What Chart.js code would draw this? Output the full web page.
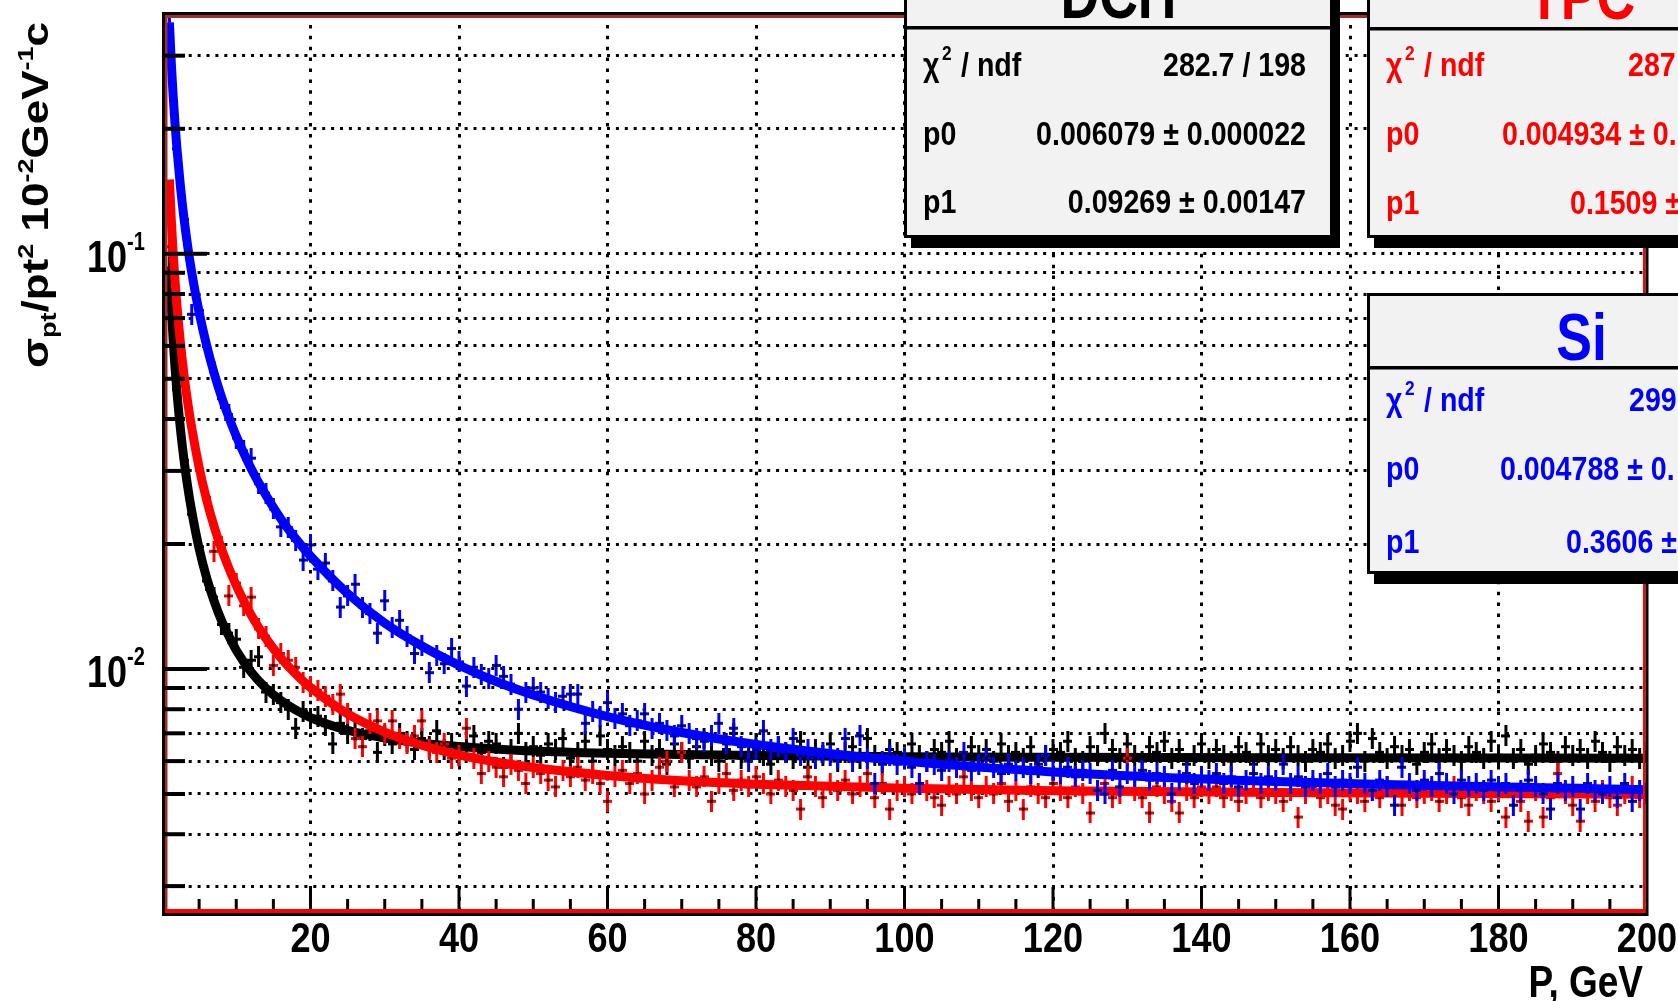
<!DOCTYPE html>
<html lang="en">
<head>
<meta charset="UTF-8" />
<title>Momentum resolution: DCH, TPC, Si</title>
<script src="https://cdn.jsdelivr.net/npm/chart.js"></script>
<style>
  html, body { margin: 0; padding: 0; background: #fff; overflow: hidden; }
  canvas { display: block; }
</style>
</head>
<body>
<canvas id="resChart" width="1678" height="1001"></canvas>
<script>
// one bin per GeV
const momentum = Array.from({ length: 200 }, (_, i) => i + 1);

const dchPoints = [
  0.0925, 0.0471, 0.0318, 0.0236, 0.0197, 0.0163, 0.0149, 0.0128, 0.0122, 0.0118,
  0.0101, 0.0105, 0.0107, 0.0088, 0.0087, 0.0083, 0.0080, 0.0072, 0.0079, 0.0076,
  0.0077, 0.0073, 0.0066, 0.0074, 0.0070, 0.0071, 0.0068, 0.0071, 0.0063, 0.0069,
  0.0066, 0.0070, 0.0067, 0.0064, 0.0068, 0.0065, 0.0071, 0.0064, 0.0066, 0.0062,
  0.0065, 0.0069, 0.0063, 0.0067, 0.0066, 0.0058, 0.0064, 0.0070, 0.0063, 0.0065,
  0.0062, 0.0066, 0.0064, 0.0068, 0.0061, 0.0063, 0.0067, 0.0060, 0.0069, 0.0064,
  0.0062, 0.0065, 0.0063, 0.0060, 0.0067, 0.0062, 0.0064, 0.0059, 0.0066, 0.0063,
  0.0061, 0.0065, 0.0068, 0.0062, 0.0060, 0.0064, 0.0070, 0.0061, 0.0063, 0.0066,
  0.0062, 0.0059, 0.0065, 0.0063, 0.0061, 0.0067, 0.0058, 0.0064, 0.0062, 0.0066,
  0.0060, 0.0063, 0.0065, 0.0061, 0.0068, 0.0062, 0.0059, 0.0064, 0.0063, 0.0061,
  0.0066, 0.0062, 0.0060, 0.0064, 0.0063, 0.0067, 0.0061, 0.0059, 0.0065, 0.0062,
  0.0064, 0.0060, 0.0066, 0.0062, 0.0063, 0.0061, 0.0065, 0.0058, 0.0062, 0.0064,
  0.0063, 0.0067, 0.0061, 0.0060, 0.0065, 0.0062, 0.0070, 0.0064, 0.0061, 0.0066,
  0.0062, 0.0060, 0.0065, 0.0063, 0.0067, 0.0061, 0.0064, 0.0059, 0.0062, 0.0066,
  0.0061, 0.0064, 0.0062, 0.0060, 0.0065, 0.0063, 0.0059, 0.0066, 0.0062, 0.0064,
  0.0061, 0.0065, 0.0062, 0.0060, 0.0064, 0.0063, 0.0066, 0.0061, 0.0062, 0.0067,
  0.0070, 0.0060, 0.0068, 0.0063, 0.0061, 0.0065, 0.0062, 0.0064, 0.0059, 0.0063,
  0.0066, 0.0061, 0.0064, 0.0062, 0.0060, 0.0065, 0.0063, 0.0061, 0.0067, 0.0062,
  0.0069, 0.0061, 0.0064, 0.0059, 0.0062, 0.0066, 0.0063, 0.0060, 0.0065, 0.0062,
  0.0064, 0.0061, 0.0067, 0.0063, 0.0060, 0.0065, 0.0062, 0.0064, 0.0061, 0.0063
];

const tpcPoints = [
  0.1040, 0.0762, 0.0498, 0.0384, 0.0301, 0.0259, 0.0192, 0.0197, 0.0150, 0.0161,
  0.0142, 0.0149, 0.0125, 0.0120, 0.0102, 0.0109, 0.0105, 0.0101, 0.0093, 0.0091,
  0.0089, 0.0086, 0.0082, 0.0087, 0.0078, 0.0068, 0.0065, 0.0074, 0.0075, 0.0070,
  0.0075, 0.0068, 0.0066, 0.0069, 0.0075, 0.0064, 0.0063, 0.0066, 0.0061, 0.0062,
  0.0072, 0.0061, 0.0056, 0.0060, 0.0058, 0.0055, 0.0059, 0.0057, 0.0053, 0.0058,
  0.0056, 0.0054, 0.0052, 0.0057, 0.0055, 0.0058, 0.0054, 0.0056, 0.0053, 0.0048,
  0.0055, 0.0057, 0.0053, 0.0056, 0.0050, 0.0054, 0.0058, 0.0060, 0.0052, 0.0063,
  0.0054, 0.0052, 0.0055, 0.0048, 0.0053, 0.0056, 0.0051, 0.0054, 0.0052, 0.0055,
  0.0053, 0.0050, 0.0054, 0.0052, 0.0051, 0.0046, 0.0055, 0.0052, 0.0049, 0.0053,
  0.0051, 0.0054, 0.0050, 0.0052, 0.0056, 0.0049, 0.0053, 0.0046, 0.0051, 0.0052,
  0.0050, 0.0053, 0.0051, 0.0049, 0.0047, 0.0052, 0.0050, 0.0055, 0.0051, 0.0049,
  0.0052, 0.0050, 0.0053, 0.0048, 0.0051, 0.0046, 0.0052, 0.0050, 0.0049, 0.0053,
  0.0051, 0.0049, 0.0052, 0.0050, 0.0045, 0.0051, 0.0053, 0.0049, 0.0050, 0.0061,
  0.0051, 0.0049, 0.0045, 0.0052, 0.0050, 0.0048, 0.0045, 0.0051, 0.0049, 0.0052,
  0.0050, 0.0052, 0.0049, 0.0051, 0.0048, 0.0050, 0.0053, 0.0049, 0.0051, 0.0050,
  0.0048, 0.0051, 0.0044, 0.0050, 0.0052, 0.0049, 0.0050, 0.0047, 0.0046, 0.0051,
  0.0050, 0.0048, 0.0051, 0.0049, 0.0052, 0.0050, 0.0047, 0.0051, 0.0049, 0.0050,
  0.0051, 0.0048, 0.0050, 0.0052, 0.0049, 0.0047, 0.0051, 0.0050, 0.0048, 0.0051,
  0.0044, 0.0050, 0.0048, 0.0043, 0.0051, 0.0044, 0.0049, 0.0056, 0.0050, 0.0047,
  0.0043, 0.0050, 0.0048, 0.0051, 0.0049, 0.0047, 0.0050, 0.0052, 0.0049, 0.0050
];

const siPoints = [
  0.3550, 0.1790, 0.1210, 0.0715, 0.0730, 0.0598, 0.0520, 0.0448, 0.0410, 0.0360,
  0.0335, 0.0322, 0.0280, 0.0265, 0.0243, 0.0220, 0.0219, 0.0204, 0.0183, 0.0199,
  0.0174, 0.0180, 0.0163, 0.0141, 0.0150, 0.0160, 0.0141, 0.0136, 0.0122, 0.0146,
  0.0126, 0.0131, 0.0120, 0.0109, 0.0114, 0.0098, 0.0108, 0.0103, 0.0112, 0.0104,
  0.0091, 0.0101, 0.0097, 0.0095, 0.0102, 0.0096, 0.0092, 0.0080, 0.0088, 0.0090,
  0.0088, 0.0085, 0.0083, 0.0086, 0.0087, 0.0087, 0.0074, 0.0079, 0.0077, 0.0083,
  0.0076, 0.0078, 0.0073, 0.0075, 0.0078, 0.0072, 0.0074, 0.0071, 0.0069, 0.0073,
  0.0070, 0.0068, 0.0067, 0.0069, 0.0074, 0.0066, 0.0072, 0.0065, 0.0060, 0.0064,
  0.0071, 0.0064, 0.0065, 0.0063, 0.0068, 0.0062, 0.0064, 0.0061, 0.0063, 0.0062,
  0.0061, 0.0068, 0.0060, 0.0069, 0.0061, 0.0053, 0.0060, 0.0062, 0.0059, 0.0061,
  0.0058, 0.0053, 0.0060, 0.0059, 0.0057, 0.0060, 0.0058, 0.0063, 0.0057, 0.0059,
  0.0061, 0.0058, 0.0056, 0.0059, 0.0057, 0.0058, 0.0056, 0.0059, 0.0062, 0.0057,
  0.0056, 0.0058, 0.0055, 0.0057, 0.0056, 0.0051, 0.0050, 0.0057, 0.0052, 0.0056,
  0.0055, 0.0057, 0.0054, 0.0056, 0.0055, 0.0050, 0.0054, 0.0056, 0.0053, 0.0055,
  0.0054, 0.0056, 0.0053, 0.0055, 0.0052, 0.0054, 0.0056, 0.0053, 0.0055, 0.0054,
  0.0059, 0.0053, 0.0055, 0.0052, 0.0054, 0.0053, 0.0056, 0.0052, 0.0054, 0.0053,
  0.0058, 0.0053, 0.0051, 0.0054, 0.0052, 0.0047, 0.0058, 0.0053, 0.0051, 0.0054,
  0.0052, 0.0056, 0.0053, 0.0050, 0.0054, 0.0052, 0.0053, 0.0051, 0.0054, 0.0052,
  0.0053, 0.0047, 0.0051, 0.0054, 0.0052, 0.0050, 0.0046, 0.0053, 0.0051, 0.0052,
  0.0046, 0.0053, 0.0051, 0.0050, 0.0052, 0.0049, 0.0053, 0.0048, 0.0051, 0.0050
];

// fitted curves, sampled along P
const fitMomentum = [1, 1.25, 1.5, 1.75, 2, 2.5, 3, 3.5, 4, 5, 6, 7, 8, 9, 10, 12, 14, 16, 18, 20,
  25, 30, 35, 40, 45, 50, 60, 70, 80, 100, 120, 150, 200];
const dchFit = [0.0929, 0.0744, 0.0621, 0.0533, 0.0467, 0.0376, 0.0315, 0.0272, 0.0240, 0.0195,
  0.0166, 0.0146, 0.0131, 0.0120, 0.0111, 0.00983, 0.00899, 0.00840, 0.00797, 0.00764,
  0.00712, 0.00682, 0.00663, 0.00651, 0.00642, 0.00635, 0.00627, 0.00622, 0.00619, 0.00615,
  0.00613, 0.00611, 0.00610];
const tpcFit = [0.1510, 0.1208, 0.1007, 0.0864, 0.0756, 0.0606, 0.0505, 0.0434, 0.0381, 0.0306,
  0.0256, 0.0221, 0.0195, 0.0175, 0.0159, 0.0135, 0.01185, 0.01064, 0.00973, 0.00902,
  0.00780, 0.00705, 0.00655, 0.00621, 0.00597, 0.00579, 0.00554, 0.00538, 0.00528, 0.00516,
  0.00509, 0.00504, 0.00499];
const siFit = [0.3606, 0.2885, 0.2404, 0.2061, 0.1803, 0.1442, 0.1202, 0.1031, 0.0903, 0.0723,
  0.0603, 0.0517, 0.0453, 0.0404, 0.0364, 0.0304, 0.0262, 0.0230, 0.0206, 0.0187,
  0.0152, 0.0129, 0.01136, 0.01021, 0.00933, 0.00866, 0.00768, 0.00703, 0.00658, 0.00600,
  0.00565, 0.00536, 0.00512];

// axes
const xMin = 0, xMax = 200;
const yMin = 0.00257, yMax = 0.378;
const xGridValues = [20, 40, 60, 80, 100, 120, 140, 160, 180];
const xTickValues = [20, 40, 60, 80, 100, 120, 140, 160, 180, 200];
const xTickLabels = ['20', '40', '60', '80', '100', '120', '140', '160', '180', '200'];
const xMinorStep = 5;
const yGridValues = [0.003, 0.004, 0.005, 0.006, 0.007, 0.008, 0.009,
  0.01, 0.02, 0.03, 0.04, 0.05, 0.06, 0.07, 0.08, 0.09, 0.1, 0.2, 0.3];
const yLabelValues = [0.1, 0.01];
const yLabelExponents = ['-1', '-2'];

// fit result boxes (TPC and Si run off the right edge of the pad)
const statBoxes = [
  { title: 'DCH', color: '#000000', x: 904, top: -40, bottom: 238, sep: 26, titleBase: 18,
    rows: [
      { label: 'chi2', value: '282.7 / 198', base: 76, vx: 1306, align: 'right' },
      { label: 'p0', value: '0.006079 \u00b1 0.000022', base: 145, vx: 1306, align: 'right' },
      { label: 'p1', value: '0.09269 \u00b1 0.00147', base: 213, vx: 1306, align: 'right' }
    ] },
  { title: 'TPC', color: '#ff0000', x: 1367, top: -40, bottom: 238, sep: 27, titleBase: 19,
    rows: [
      { label: 'chi2', value: '287', base: 76, vx: 1628, align: 'left' },
      { label: 'p0', value: '0.004934 \u00b1 0.', base: 145, vx: 1502, align: 'left' },
      { label: 'p1', value: '0.1509 \u00b1', base: 214, vx: 1570, align: 'left' }
    ] },
  { title: 'Si', color: '#0000ff', x: 1367, top: 293, bottom: 574, sep: 366, titleBase: 360,
    rows: [
      { label: 'chi2', value: '299', base: 411, vx: 1629, align: 'left' },
      { label: 'p0', value: '0.004788 \u00b1 0.', base: 480, vx: 1500, align: 'left' },
      { label: 'p1', value: '0.3606 \u00b1', base: 553, vx: 1566, align: 'left' }
    ] }
];
const BOX_W = 429;

const FONT = '"Liberation Sans", Arial, sans-serif';

// error-bar cross with a small black marker in the middle
function crossMarker(color) {
  const c = document.createElement('canvas');
  c.width = 9; c.height = 21;
  const g = c.getContext('2d');
  g.fillStyle = color;
  g.fillRect(3, 0, 3, 21);
  g.fillRect(0, 9, 9, 3);
  g.fillStyle = '#000';
  g.fillRect(3, 9, 3, 3);
  return c;
}

function toPoints(xs, ys) {
  return xs.map((x, i) => ({ x: x, y: ys[i] }));
}

function pointSet(values, color, order) {
  return {
    data: toPoints(momentum, values),
    pointStyle: crossMarker(color),
    pointRadius: 5,
    showLine: false,
    order: order
  };
}

function fitSet(values, color, order) {
  return {
    data: toPoints(fitMomentum, values),
    showLine: true,
    borderColor: color,
    borderWidth: 9,
    borderCapStyle: 'butt',
    cubicInterpolationMode: 'monotone',
    pointRadius: 0,
    order: order
  };
}

// text squeezed horizontally, like the old ROOT bitmap fonts
function narrowText(ctx, str, x, y, size, align, sx) {
  ctx.save();
  ctx.font = 'bold ' + size + 'px ' + FONT;
  ctx.textAlign = align;
  ctx.textBaseline = 'alphabetic';
  ctx.translate(x, y);
  ctx.scale(sx, 1);
  ctx.fillText(str, 0, 0);
  ctx.restore();
}

function drawYTitle(ctx) {
  const parts = [
    ['\u03c3', 44, 0], ['pt', 27, 9], ['/pt', 44, 0], ['2', 27, -18],
    [' 10', 44, 0], ['-2', 27, -18], ['GeV', 44, 0], ['-1', 27, -18], ['c', 44, 0]
  ];
  ctx.save();
  ctx.translate(48, 368);
  ctx.rotate(-Math.PI / 2);
  ctx.scale(1, 0.84);
  ctx.fillStyle = '#000';
  ctx.textBaseline = 'alphabetic';
  let cx = 0;
  parts.forEach(([s, size, dy]) => {
    ctx.font = 'bold ' + size + 'px ' + FONT;
    ctx.fillText(s, cx, dy);
    cx += ctx.measureText(s).width;
  });
  ctx.restore();
}

function drawStatBox(ctx, b) {
  const h = b.bottom - b.top;
  ctx.save();
  ctx.fillStyle = '#000';
  ctx.fillRect(b.x + 7, b.top + 10, BOX_W, h);
  ctx.fillStyle = '#f2f2f2';
  ctx.fillRect(b.x, b.top, BOX_W, h);
  ctx.strokeStyle = '#000';
  ctx.lineWidth = 3;
  ctx.strokeRect(b.x + 1.5, b.top + 1.5, BOX_W - 3, h - 3);
  ctx.fillStyle = '#000';
  ctx.fillRect(b.x, b.sep, BOX_W, 3.5);

  ctx.fillStyle = b.color;
  narrowText(ctx, b.title, b.x + BOX_W / 2, b.titleBase, 67, 'center', 0.8);
  const lx = b.x + 19;
  b.rows.forEach(r => {
    if (r.label === 'chi2') {
      narrowText(ctx, '\u03c7', lx, r.base, 33, 'left', 0.866);
      narrowText(ctx, '2', lx + 19, r.base - 16, 20, 'left', 0.866);
      narrowText(ctx, '/ ndf', lx + 38, r.base, 33, 'left', 0.866);
    } else {
      narrowText(ctx, r.label, lx, r.base, 33, 'left', 0.866);
    }
    narrowText(ctx, r.value, r.vx, r.base, 33, r.align, 0.866);
  });
  ctx.restore();
}

const rootFrame = {
  id: 'rootFrame',
  afterDraw(chart) {
    const { ctx, chartArea: a, scales } = chart;
    const xs = scales.x, ys = scales.y;
    const L = a.left, T = a.top - 2, R = a.right + 1.5, B = a.bottom + 2;
    ctx.save();

    // bevel strips inside the frame
    ctx.fillStyle = '#a52a2a';
    ctx.fillRect(L + 3, T + 3, R - L - 6, 3);
    ctx.fillRect(L + 3, T + 3, 2.5, B - T - 6);
    ctx.fillStyle = '#ff0000';
    ctx.fillRect(R - 5.5, T + 3, 2.5, B - T - 6);
    ctx.fillRect(L + 3, B - 7, R - L - 6, 4);

    // tick marks
    ctx.fillStyle = '#000';
    yGridValues.forEach(v => {
      const py = ys.getPixelForValue(v);
      const len = yLabelValues.includes(v) ? 45 : 23;
      ctx.fillRect(L, py - 2, len, 4);
    });
    for (let v = xMinorStep; v < xMax; v += xMinorStep) {
      const px = xs.getPixelForValue(v);
      const len = v % 20 === 0 ? 22 : 10;
      ctx.fillRect(px - 1.5, B - 7 - len, 3, len);
    }

    // outer frame line
    ctx.strokeStyle = '#000';
    ctx.lineWidth = 3;
    ctx.strokeRect(L + 1.5, T + 1.5, R - L - 3, B - T - 3);

    // axis labels
    ctx.fillStyle = '#000';
    xTickValues.forEach((v, i) => {
      narrowText(ctx, xTickLabels[i], xs.getPixelForValue(v), 952, 43, 'center', 0.84);
    });
    yLabelValues.forEach((v, i) => {
      const py = ys.getPixelForValue(v);
      narrowText(ctx, '10', 127, py + 18, 45, 'right', 0.8);
      narrowText(ctx, yLabelExponents[i], 127, py - 4, 25, 'left', 0.8);
    });
    narrowText(ctx, 'P, GeV', 1643, 997, 44, 'right', 0.84);
    drawYTitle(ctx);

    statBoxes.forEach(b => drawStatBox(ctx, b));
    ctx.restore();
  }
};

new Chart(document.getElementById('resChart'), {
  type: 'scatter',
  data: {
    datasets: [
      fitSet(siFit, '#0000ff', 0),
      pointSet(siPoints, '#0000ff', 1),
      fitSet(tpcFit, '#ff0000', 2),
      pointSet(tpcPoints, '#ff0000', 3),
      fitSet(dchFit, '#000000', 4),
      pointSet(dchPoints, '#000000', 5)
    ]
  },
  options: {
    responsive: false,
    animation: false,
    devicePixelRatio: 1,
    layout: { padding: { left: 162, right: 31, top: 14, bottom: 87 } },
    plugins: { legend: { display: false }, tooltip: { enabled: false } },
    scales: {
      x: {
        type: 'linear',
        min: xMin,
        max: xMax,
        afterBuildTicks: s => { s.ticks = xGridValues.map(v => ({ value: v })); },
        afterFit: s => { s.height = 0; },
        ticks: { display: false },
        grid: { color: '#000', lineWidth: 3, drawTicks: false },
        border: { display: false, dash: [3.5, 7.4] }
      },
      y: {
        type: 'logarithmic',
        min: yMin,
        max: yMax,
        afterBuildTicks: s => { s.ticks = yGridValues.map(v => ({ value: v })); },
        afterFit: s => { s.width = 0; },
        ticks: { display: false },
        grid: { color: '#000', lineWidth: 3, drawTicks: false },
        border: { display: false, dash: [3, 5.9] }
      }
    }
  },
  plugins: [rootFrame]
});
</script>
</body>
</html>
